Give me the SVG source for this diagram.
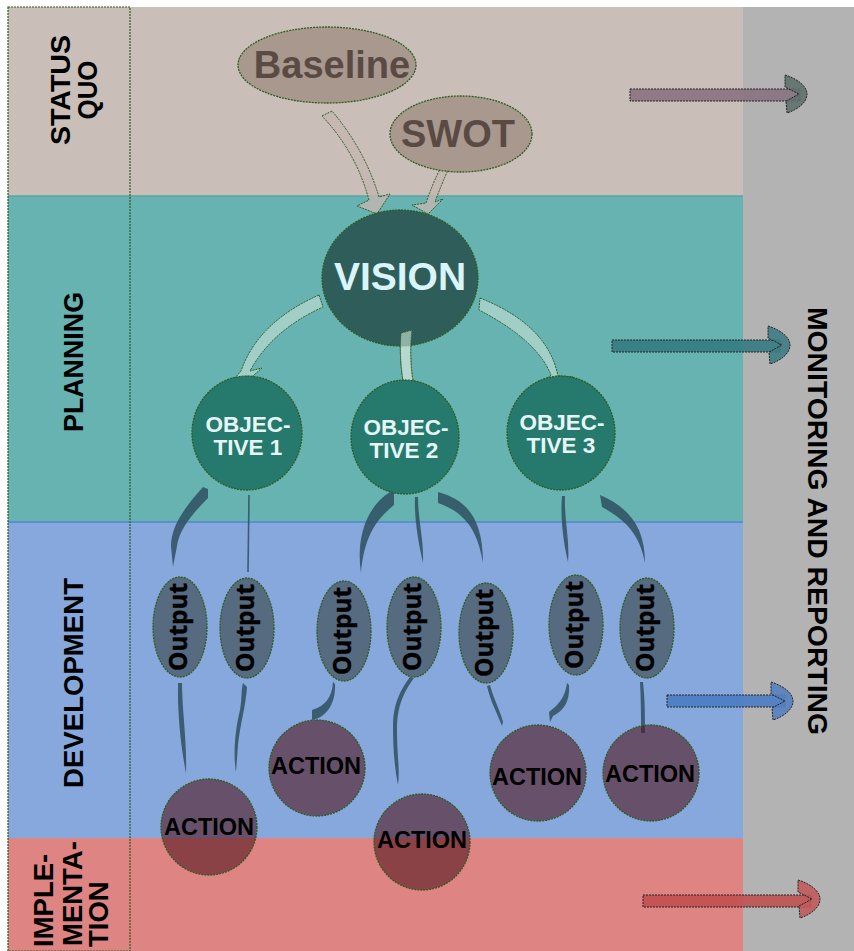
<svg xmlns="http://www.w3.org/2000/svg" width="854" height="951" viewBox="0 0 854 951">
<defs>
<style>
.lbl{font-family:"Liberation Sans",Arial,sans-serif;font-weight:bold;font-size:27.5px;fill:#000;text-anchor:middle;}
.node{stroke:#2e5b1f;stroke-width:1.3;stroke-dasharray:2 1;}
.obj{fill:#267a6d;}
.objt{font-family:"Liberation Sans",Arial,sans-serif;font-weight:bold;font-size:22.5px;fill:#e6f6f6;text-anchor:middle;}
.out{fill:#566a80;}
.outt{font-family:"Open Sans",Lato,sans-serif;font-weight:bold;font-size:25px;fill:#000;stroke:#000;stroke-width:0.4;text-anchor:middle;}
.act{fill:rgb(82,21,30);fill-opacity:0.6;}
.actt{font-family:"Liberation Sans",Arial,sans-serif;font-weight:bold;font-size:23.5px;fill:#000;text-anchor:middle;}
.tail{fill:#2f4f5f;fill-opacity:0.85;}
.barrow{fill:#c4b6b2;fill-opacity:0.8;stroke:#2e5b1f;stroke-width:1;stroke-dasharray:2 1;}
.varrow{fill:#c2ddd2;fill-opacity:0.65;stroke:#2e5b1f;stroke-width:1;stroke-dasharray:2 1;}
.mline{stroke:#222;stroke-width:1;stroke-dasharray:2 1;}
.hk{stroke:#222;stroke-width:1;stroke-dasharray:2 1;fill-opacity:0.9;}
.big{font-family:"Liberation Sans",Arial,sans-serif;font-weight:bold;font-size:38px;text-anchor:middle;}
</style>
<path id="hook" d="M0,-19 L3,-18 C14,-14 22,-7 22,0 C22,8 14,15 2,19 L1,7 L14,0 L0,-7 Z"/>
</defs>

<g id="bands">
<rect width="854" height="951" fill="#ffffff"/>
<rect x="8" y="7" width="735" height="189" fill="#c9beb8"/>
<rect x="8" y="196" width="735" height="326" fill="#66b3b2"/>
<rect x="8" y="522" width="735" height="316" fill="#87a8dc"/>
<rect x="8" y="838" width="735" height="113" fill="#de8482"/>
<rect x="743" y="7" width="111" height="944" fill="#b3b3b3"/>
<line x1="8" y1="196" x2="743" y2="196" stroke="#5aa4a2" stroke-width="1.5"/>
<line x1="8" y1="522" x2="743" y2="522" stroke="#5b90cc" stroke-width="2"/>
<rect x="8" y="7" width="122" height="944" fill="none" stroke="#2e5b1f" stroke-width="1.2" stroke-dasharray="2 1"/>
</g>

<g id="labels">
<text class="lbl" transform="translate(70,90) rotate(-90)" textLength="110" lengthAdjust="spacingAndGlyphs">STATUS</text>
<text class="lbl" transform="translate(97,90) rotate(-90)" textLength="59" lengthAdjust="spacingAndGlyphs">QUO</text>
<text class="lbl" transform="translate(83,362) rotate(-90)" textLength="140" lengthAdjust="spacingAndGlyphs">PLANNING</text>
<text class="lbl" transform="translate(83,683) rotate(-90)" textLength="210" lengthAdjust="spacingAndGlyphs">DEVELOPMENT</text>
<text class="lbl" style="text-anchor:start" transform="translate(53,947) rotate(-90)">IMPLE-</text>
<text class="lbl" style="text-anchor:start" transform="translate(82,946) rotate(-90)">MENTA-</text>
<text class="lbl" style="text-anchor:start" transform="translate(108,947) rotate(-90)">TION</text>
<text class="lbl" style="font-size:28.5px" transform="translate(808,521) rotate(90)" textLength="428" lengthAdjust="spacingAndGlyphs">MONITORING AND REPORTING</text>
</g>

<g id="connectors">
<path class="barrow" d="M322,116 L332,111 Q365,150 379,197 L390,194 L377,214 L357,206 L369,200 Q356,152 322,116 Z"/>
<path class="barrow" d="M440,169 L448,170 Q440,188 435,202 L443,199 L428,214 L412,205 L426,203 Q432,185 440,169 Z"/>
<path class="varrow" d="M319,295 L323,307 Q272,330 250,371 L262,368 L246,382 L235,378 L241,371 Q258,322 319,295 Z"/>
<path class="varrow" d="M401,333 L412,330 Q409,355 413,381 L421,384 L406,392 L390,388 L403,381 Q399,355 401,333 Z"/>
<path class="varrow" d="M480,298 Q548,325 558,376 L573,377 L560,383 L543,382 L551,375 Q537,340 479,310 Z"/>

<path class="tail" d="M203,487 L208,489 L208,498 C192,514 179,530 177,546 L173,567 L171,546 C171,530 180,512 203,487 Z"/>
<line x1="249" y1="495" x2="248" y2="572" stroke="#2f4f5f" stroke-opacity="0.85" stroke-width="1.6"/>
<path class="tail" d="M390,492 L394,493 L394,505 C378,518 364,535 361,573 C356,540 365,508 390,492 Z"/>
<path class="tail" d="M415,497 L418,497 C418,520 424,540 423,563 C419,545 414,520 415,497 Z"/>
<path class="tail" d="M438,492 C468,500 483,520 483,563 C477,527 463,512 438,503 Z"/>
<path class="tail" d="M562,496 L565,496 C564,520 570,540 568,562 C564,545 560,520 562,496 Z"/>
<path class="tail" d="M600,495 C630,508 645,528 645,563 C640,535 626,520 602,507 Z"/>

<path class="tail" d="M178,683 L182,683 C182,710 187,740 186,773 C182,752 179,730 178,700 Z"/>
<path class="tail" d="M243,683 L247,687 C246,705 240,725 238,745 L236,772 C233,755 235,730 240,710 C242,700 241,690 243,683 Z"/>
<path class="tail" d="M333,682 C332,698 325,706 312,710 L312,720 C325,718 336,705 335,684 Z"/>
<path class="tail" d="M410,677 L414,678 C404,692 397,705 397,730 C397,755 400,770 398,785 C394,765 393,745 393,725 C393,705 400,690 410,677 Z"/>
<path class="tail" d="M487,686 L490,685 C494,700 500,710 503,722 L502,726 C497,713 490,700 487,686 Z"/>
<path class="tail" d="M567,683 L569,685 C570,700 565,710 553,716 L550,722 L549,712 C558,705 565,698 567,683 Z"/>
<path class="tail" d="M640,682 L643,682 C645,700 645,718 645,733 L641,733 C641,715 641,700 640,682 Z"/>

<g id="mon-arrows">
<rect class="mline" x="630" y="89" width="170" height="12" fill="#856f7d" fill-opacity="0.85"/>
<use href="#hook" class="hk" transform="translate(785,94)" fill="#5e706c"/>
<rect class="mline" x="612" y="340" width="168" height="12" fill="#357a82" fill-opacity="0.9"/>
<use href="#hook" class="hk" transform="translate(768,345)" fill="#3f7c84"/>
<rect class="mline" x="667" y="695" width="118" height="12" fill="#4a7cc4" fill-opacity="0.9"/>
<use href="#hook" class="hk" transform="translate(771,701)" fill="#5580bf"/>
<rect class="mline" x="643" y="895" width="168" height="12" fill="#bf4c4c" fill-opacity="0.85"/>
<use href="#hook" class="hk" transform="translate(798,899)" fill="#c05a5c"/>
</g>
</g>

<g id="baseline">
<ellipse class="node" cx="327" cy="65" rx="89" ry="38" fill="#a8988e"/>
<text class="big" x="332" y="78" fill="#5a4a44">Baseline</text>
</g>
<g id="swot">
<ellipse class="node" cx="461" cy="134" rx="71" ry="38" fill="#a8988e"/>
<text class="big" x="458" y="147" fill="#5a4a44">SWOT</text>
</g>
<g id="vision">
<ellipse class="node" cx="400" cy="278" rx="78" ry="68" fill="#2f5e5a"/>
<text class="big" x="400" y="290" style="font-size:39px" fill="#d9f5fa">VISION</text>
</g>
<path class="varrow" d="M401,333 L412,330 Q409,355 413,381 L403,381 Q399,355 401,333 Z" stroke="none"/>

<g id="objective1">
<ellipse class="node obj" cx="247" cy="433" rx="55" ry="57"/>
<text class="objt" x="248" y="432">OBJEC-</text>
<text class="objt" x="248" y="455">TIVE 1</text>
</g>
<g id="objective2">
<ellipse class="node obj" cx="405" cy="437" rx="54" ry="57"/>
<text class="objt" x="406" y="435">OBJEC-</text>
<text class="objt" x="404" y="458">TIVE 2</text>
</g>
<g id="objective3">
<ellipse class="node obj" cx="561" cy="433" rx="54" ry="57"/>
<text class="objt" x="562" y="430">OBJEC-</text>
<text class="objt" x="561" y="453">TIVE 3</text>
</g>

<g id="output1"><ellipse class="node out" cx="180" cy="627" rx="27" ry="50"/><text class="outt" transform="translate(180,627) rotate(-90)" y="7" textLength="88" lengthAdjust="spacingAndGlyphs">Output</text></g>
<g id="output2"><ellipse class="node out" cx="247" cy="628" rx="27" ry="50"/><text class="outt" transform="translate(247,628) rotate(-90)" y="7" textLength="88" lengthAdjust="spacingAndGlyphs">Output</text></g>
<g id="output3"><ellipse class="node out" cx="344" cy="631" rx="27" ry="50"/><text class="outt" transform="translate(344,631) rotate(-90)" y="7" textLength="88" lengthAdjust="spacingAndGlyphs">Output</text></g>
<g id="output4"><ellipse class="node out" cx="414" cy="627" rx="27" ry="50"/><text class="outt" transform="translate(414,627) rotate(-90)" y="7" textLength="88" lengthAdjust="spacingAndGlyphs">Output</text></g>
<g id="output5"><ellipse class="node out" cx="486" cy="633" rx="27" ry="50"/><text class="outt" transform="translate(486,633) rotate(-90)" y="7" textLength="88" lengthAdjust="spacingAndGlyphs">Output</text></g>
<g id="output6"><ellipse class="node out" cx="576" cy="625" rx="27" ry="50"/><text class="outt" transform="translate(576,625) rotate(-90)" y="7" textLength="88" lengthAdjust="spacingAndGlyphs">Output</text></g>
<g id="output7"><ellipse class="node out" cx="647" cy="628" rx="27" ry="50"/><text class="outt" transform="translate(647,628) rotate(-90)" y="7" textLength="88" lengthAdjust="spacingAndGlyphs">Output</text></g>

<g id="action1"><circle class="node act" cx="209" cy="827" r="48"/><text class="actt" x="209" y="835">ACTION</text></g>
<g id="action2"><circle class="node act" cx="317" cy="768" r="48"/><text class="actt" x="316" y="774">ACTION</text></g>
<g id="action3"><circle class="node act" cx="422" cy="842" r="48"/><text class="actt" x="422" y="848">ACTION</text></g>
<g id="action4"><circle class="node act" cx="538" cy="773" r="48"/><text class="actt" x="537" y="785">ACTION</text></g>
<g id="action5"><circle class="node act" cx="651" cy="773" r="48"/><text class="actt" x="650" y="782">ACTION</text></g>
</svg>
